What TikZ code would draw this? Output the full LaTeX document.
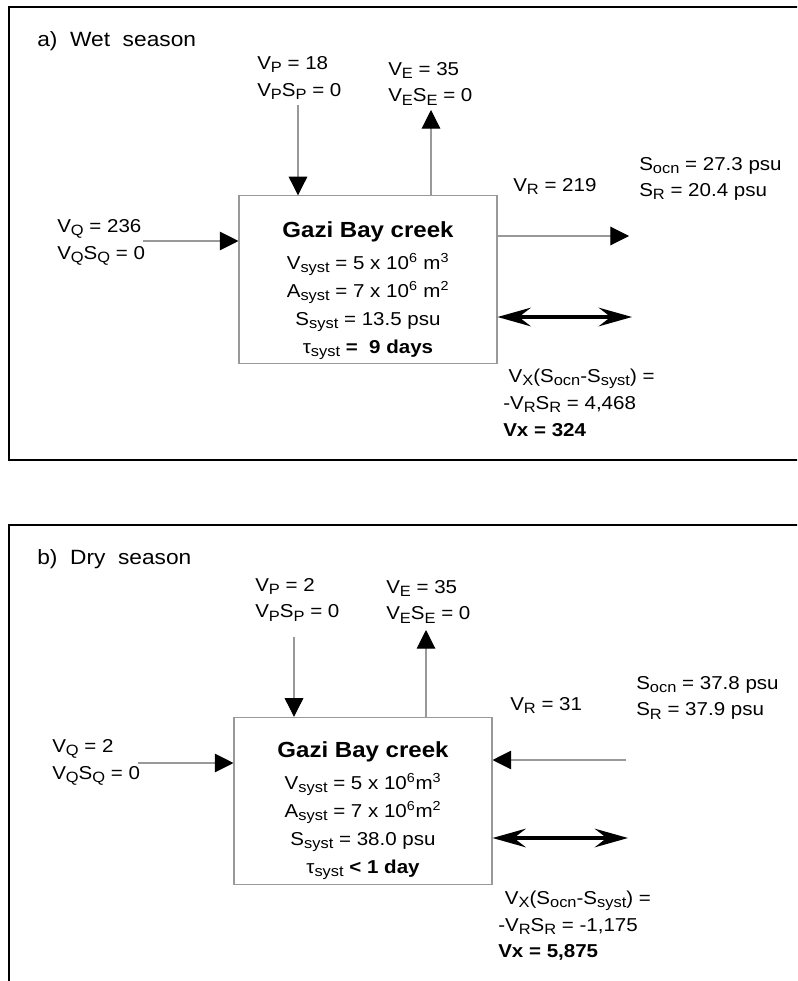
\documentclass[tikz,border=0pt]{standalone}
\usepackage{fontspec}
\setmainfont{Liberation Sans}[FakeStretch=1.1]
\usepackage{graphicx}
\usetikzlibrary{arrows.meta, positioning}
\definecolor{linegray}{HTML}{999999}
% lowered, smaller index letters (V_P, S_ocn, ...)
\newcommand{\lo}[1]{\raisebox{-0.17em}{\scalebox{0.8}{#1}}}

\begin{document}
\begin{tikzpicture}[
  x=0.75pt, y=-0.75pt,
  frame/.style={draw=black, line width=1.9pt},
  sysbox/.style={rectangle, draw=linegray, line width=0.8pt, minimum width=193.5pt, minimum height=125.5pt, inner sep=0pt},
  systext/.style={anchor=north, inner sep=0pt, align=center, font=\fontsize{14}{21}\selectfont},
  lbl/.style={anchor=north west, inner sep=0pt, align=left, font=\fontsize{14}{20}\selectfont},
  panel/.style={anchor=north west, inner sep=0pt, font=\fontsize{15.5}{18}\selectfont},
  flow/.style={draw=linegray, line width=0.8pt, -{Triangle[length=14pt, width=14pt, color=black]}},
  mix/.style={line width=2.4pt, {Stealth[length=25pt, width=14pt, inset=9pt]}-{Stealth[length=25pt, width=14pt, inset=9pt]}},
]
\useasboundingbox (0,0) rectangle (797,981);
\clip (0,0) rectangle (797,981);

% Frames
\draw[frame] (9,7) rectangle (840,460);
\draw[frame] (9,525) rectangle (840,1020);

%%% a) wet season
\node[panel] (tia) at (37,31) {a)\ \ Wet\ \ season};
\node[sysbox] (boxa) at (368,279.5) {};
\node[systext] (txa) at (368,221.7) {{\fontsize{16.4}{21}\selectfont\bfseries Gazi Bay creek}\\[3pt]
  V\lo{syst} = 5 x 10\textsuperscript{6} m\textsuperscript{3}\\
  A\lo{syst} = 7 x 10\textsuperscript{6} m\textsuperscript{2}\\
  S\lo{syst} = 13.5 psu\\
  τ\lo{syst} \textbf{=\ \ 9 days}};

\node[lbl] (vpa) at (257,56.5) {V\lo{P} = 18\\V\lo{P}S\lo{P} = 0};
\node[lbl] (vea) at (388,62) {V\lo{E} = 35\\V\lo{E}S\lo{E} = 0};
\node[lbl] (vqa) at (57,219.3) {V\lo{Q} = 236\\V\lo{Q}S\lo{Q} = 0};
\node[lbl] (vra) at (513,178) {V\lo{R} = 219};
\node[lbl] (soa) at (639,156.7) {S\lo{ocn} = 27.3 psu\\S\lo{R} = 20.4 psu};
\node[lbl] (vxa) at (503,369) {\hspace*{4pt}V\lo{X}(S\lo{ocn}-S\lo{syst}) =\\-V\lo{R}S\lo{R} = 4,468\\\textbf{Vx = 324}};

% Arrows
\coordinate (pa) at (298,105);
\coordinate (ea) at (431,110);
\coordinate (qa) at (143,241);
\coordinate (ra) at (629,236);
\coordinate (xa) at (632,317);
\draw[flow] (pa) -- (pa |- boxa.north);
\draw[flow] (ea |- boxa.north) -- (ea);
\draw[flow] (qa) -- (qa -| boxa.west);
\draw[flow] (ra -| boxa.east) -- (ra);
\draw[mix] (xa -| boxa.east) -- (xa);

%%% b) dry season
\node[panel] (tib) at (37,549) {b)\ \ Dry\ \ season};
\node[sysbox] (boxb) at (363,801) {};
\node[systext] (txb) at (363,741.7) {{\fontsize{16.4}{21}\selectfont\bfseries Gazi Bay creek}\\[3pt]
  V\lo{syst} = 5 x 10\textsuperscript{6}m\textsuperscript{3}\\
  A\lo{syst} = 7 x 10\textsuperscript{6}m\textsuperscript{2}\\
  S\lo{syst} = 38.0 psu\\
  τ\lo{syst} \textbf{< 1 day}};

\node[lbl] (vpb) at (255,578) {V\lo{P} = 2\\V\lo{P}S\lo{P} = 0};
\node[lbl] (veb) at (386,580) {V\lo{E} = 35\\V\lo{E}S\lo{E} = 0};
\node[lbl] (vqb) at (52,739.3) {V\lo{Q} = 2\\V\lo{Q}S\lo{Q} = 0};
\node[lbl] (vrb) at (510,696.7) {V\lo{R} = 31};
\node[lbl] (sob) at (636,676) {S\lo{ocn} = 37.8 psu\\S\lo{R} = 37.9 psu};
\node[lbl] (vxb) at (498,890.7) {\hspace*{5pt}V\lo{X}(S\lo{ocn}-S\lo{syst}) =\\-V\lo{R}S\lo{R} = -1,175\\\textbf{Vx = 5,875}};

% Arrows
\coordinate (pb) at (294,637);
\coordinate (eb) at (426,630);
\coordinate (qb) at (138,763);
\coordinate (rb) at (626,760);
\coordinate (xb) at (628,838);
\draw[flow] (pb) -- (pb |- boxb.north);
\draw[flow] (eb |- boxb.north) -- (eb);
\draw[flow] (qb) -- (qb -| boxb.west);
\draw[flow] (rb) -- (rb -| boxb.east);
\draw[mix] (xb -| boxb.east) -- (xb);

\end{tikzpicture}
\end{document}
